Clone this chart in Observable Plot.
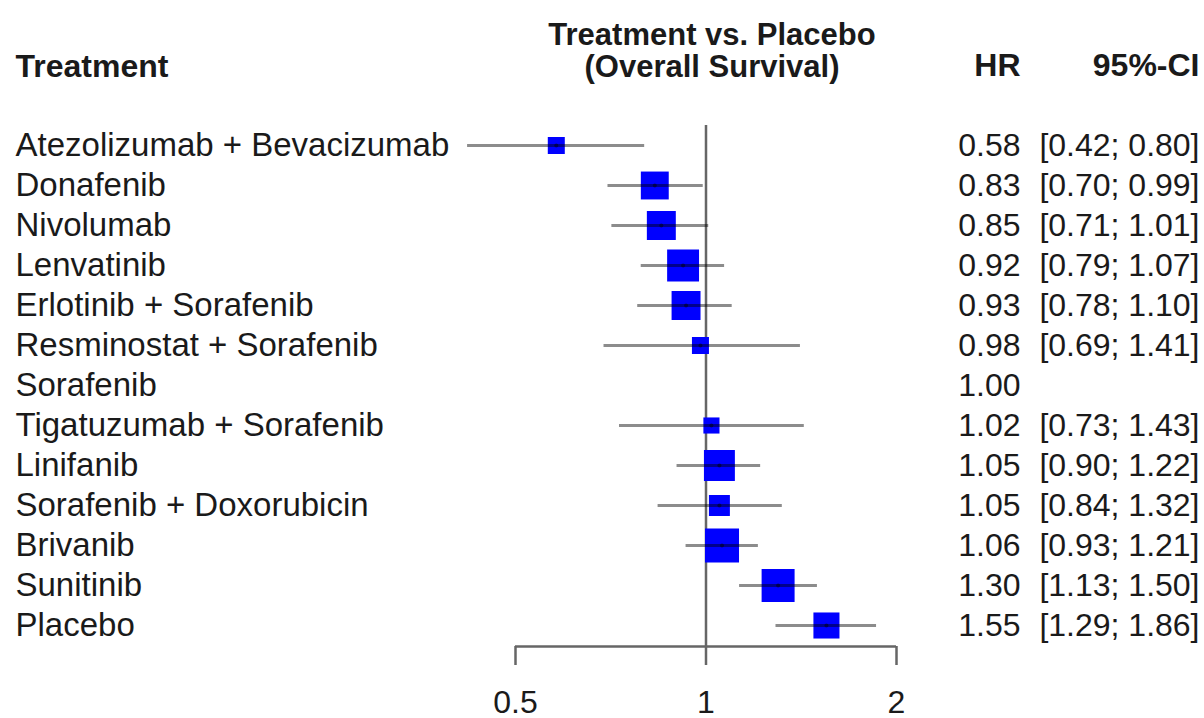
<!DOCTYPE html>
<html>
<head>
<meta charset="utf-8">
<script src="https://cdn.jsdelivr.net/npm/d3@7"></script>
<script src="https://cdn.jsdelivr.net/npm/@observablehq/plot@0.6"></script>
<style>
  html, body { margin: 0; padding: 0; background: #fff; }
</style>
</head>
<body>
<div id="chart"></div>
<script>
// ---- data ----
const treatments = [
  "Atezolizumab + Bevacizumab",
  "Donafenib",
  "Nivolumab",
  "Lenvatinib",
  "Erlotinib + Sorafenib",
  "Resminostat + Sorafenib",
  "Sorafenib",
  "Tigatuzumab + Sorafenib",
  "Linifanib",
  "Sorafenib + Doxorubicin",
  "Brivanib",
  "Sunitinib",
  "Placebo"
];
const hr       = [0.58, 0.83, 0.85, 0.92, 0.93, 0.98, 1.00, 1.02, 1.05, 1.05, 1.06, 1.30, 1.55];
const ciLower  = [0.42, 0.70, 0.71, 0.79, 0.78, 0.69, null, 0.73, 0.90, 0.84, 0.93, 1.13, 1.29];
const ciUpper  = [0.80, 0.99, 1.01, 1.07, 1.10, 1.41, null, 1.43, 1.22, 1.32, 1.21, 1.50, 1.86];
// relative weights (square areas)
const weights  = [2.9, 7.8, 8.4, 10.2, 8.4, 2.9, null, 2.6, 9.6, 4.4, 11.6, 10.9, 6.8];
const xTicks   = [0.5, 1, 2];
const titleText = "Treatment vs. Placebo\n(Overall Survival)";
const headerTreatment = "Treatment";
const headerHR = "HR";
const headerCI = "95%-CI";

// ---- build table ----
const rows = treatments.map((name, i) => ({
  name, hr: hr[i], lower: ciLower[i], upper: ciUpper[i], weight: weights[i]
}));
const withCI = rows.filter(d => d.lower != null);
const fmt = d3.format(".2f");
const textColor = "#1a1a1a";
const lineColor = "#666";

const chart = Plot.plot({
  width: 1204,
  height: 718,
  marginLeft: 515,
  marginRight: 308,
  marginTop: 125,
  marginBottom: 72,
  style: {
    fontFamily: "'Liberation Sans', Arial, Helvetica, sans-serif",
    fontSize: "32px",
    color: textColor,
    background: "#fff",
    overflow: "visible"
  },
  x: {type: "log", domain: d3.extent(xTicks), axis: null},
  y: {type: "point", domain: treatments, range: [145, 625], padding: 0, axis: null},
  r: {type: "sqrt", domain: [0, d3.max(weights)], range: [0, 19.2]},
  marks: [
    // reference line at HR = 1
    Plot.ruleX([1], {stroke: lineColor, strokeWidth: 2.5}),
    // axis baseline
    Plot.ruleY([treatments[treatments.length - 1]], {
      x1: () => d3.min(xTicks), x2: () => d3.max(xTicks),
      dy: 21, stroke: lineColor, strokeWidth: 2.5
    }),
    Plot.axisX({
      anchor: "bottom",
      ticks: xTicks,
      tickFormat: d => String(d),
      tickSize: 19,
      tickPadding: 25,
      fontSize: 32,
      stroke: lineColor,
      strokeWidth: 2.5,
      fill: textColor,
      label: null
    }),
    // weighted squares
    Plot.dot(withCI, {
      x: "hr", y: "name", r: "weight",
      symbol: "square", fill: "#0000ff", stroke: "none"
    }),
    // confidence intervals
    Plot.ruleY(withCI, {
      y: "name", x1: "lower", x2: "upper",
      stroke: "#000", strokeOpacity: 0.45, strokeWidth: 3
    }),
    // point estimate marker
    Plot.dot(withCI, {x: "hr", y: "name", r: 2, fill: "#000", fillOpacity: 0.45, stroke: "none"}),

    // headers
    Plot.text([titleText], {
      text: d => d, frameAnchor: "top", lineAnchor: "bottom",
      dx: 6, dy: -49, fontWeight: "bold", fontSize: 31, lineHeight: 1.03, fill: textColor
    }),
    Plot.text([headerTreatment], {
      text: d => d, frameAnchor: "top-left", textAnchor: "start", lineAnchor: "bottom",
      dx: -500, dy: -49, fontWeight: "bold", fontSize: 32, fill: textColor
    }),
    Plot.text([headerHR], {
      text: d => d, frameAnchor: "top-right", textAnchor: "end", lineAnchor: "bottom",
      dx: 124, dy: -50, fontWeight: "bold", fontSize: 32, fill: textColor
    }),
    Plot.text([headerCI], {
      text: d => d, frameAnchor: "top-right", textAnchor: "end", lineAnchor: "bottom",
      dx: 303, dy: -50, fontWeight: "bold", fontSize: 32, fill: textColor
    }),

    // row labels and values
    Plot.text(rows, {
      y: "name", text: "name", frameAnchor: "left", textAnchor: "start",
      dx: -500, fontSize: 33, fill: textColor
    }),
    Plot.text(rows, {
      y: "name", text: d => fmt(d.hr), frameAnchor: "right", textAnchor: "end",
      dx: 124, fontSize: 32, fill: textColor
    }),
    Plot.text(withCI, {
      y: "name", text: d => `[${fmt(d.lower)}; ${fmt(d.upper)}]`,
      frameAnchor: "right", textAnchor: "end",
      dx: 303, fontSize: 32, fill: textColor
    })
  ]
});

document.getElementById("chart").appendChild(chart);
</script>
</body>
</html>
